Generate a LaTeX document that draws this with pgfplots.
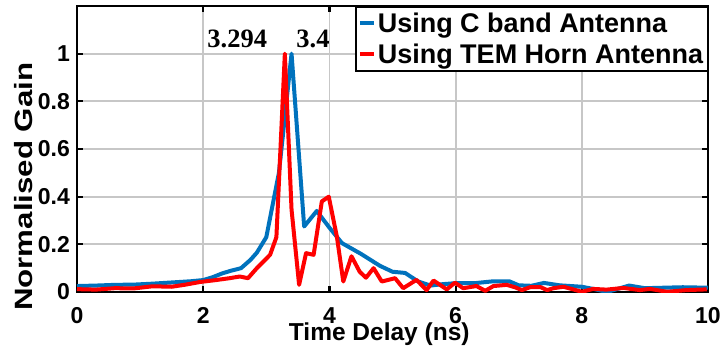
\documentclass[border=0pt]{standalone}
\usepackage{fontspec}
\setmainfont{Liberation Sans}
\newfontfamily\timesfont{Liberation Serif}
\usepackage{pgfplots}
\pgfplotsset{compat=1.18}
\definecolor{mblue}{rgb}{0,0.447,0.741}
\definecolor{mred}{rgb}{1,0,0}
\begin{document}
\begin{tikzpicture}
\begin{axis}[
  scale only axis, width=631pt, height=286pt,
  xmin=0, xmax=10, ymin=0, ymax=1.2,
  xtick={0,2,4,6,8,10}, ytick={0,0.2,0.4,0.6,0.8,1},
  grid=major, major grid style={line width=1.8pt, draw=black!22},
  axis line style={line width=2.2pt},
  tick style={line width=2.2pt, black}, major tick length=6pt, tick align=inside,
  /pgf/number format/assume math mode=true,
  tick label style={font=\fontsize{23}{27}\selectfont\bfseries},
  xticklabel style={inner sep=0pt, anchor=north, yshift=-15pt},
  yticklabel style={inner sep=0pt, anchor=east, xshift=-7pt},
  xlabel={\fontsize{24.5}{29}\selectfont\bfseries Time Delay (ns)},
  xlabel style={at={(axis description cs:0.479,-0.168)}, anchor=base, inner sep=0pt},
  ylabel={\scalebox{1.25}[1]{\fontsize{25}{30}\selectfont\bfseries Normalised Gain}},
  ylabel style={at={(axis description cs:-0.084,0.368)}, anchor=center, inner sep=0pt},
  legend style={at={(1,1)}, anchor=north east, draw=black, line width=1.5pt,
    font=\fontsize{27}{30}\selectfont\bfseries, inner xsep=2pt, inner ysep=4pt,
    nodes={inner sep=2pt}, row sep=6pt},
  legend cell align=left,
  legend image code/.code={\draw[#1, line width=4pt] (0pt,0pt) -- (14pt,0pt);},
]
\addplot[mblue, line width=4pt, line join=round] coordinates {
(0,0.025) (0.3,0.027) (0.6,0.03) (0.9,0.031) (1.2,0.035) (1.5,0.04) (1.8,0.045)
(2.0,0.05) (2.15,0.062) (2.3,0.078) (2.45,0.09) (2.6,0.1) (2.75,0.135) (2.85,0.165)
(3.0,0.23) (3.2,0.5) (3.4,1.0) (3.6,0.275) (3.8,0.34) (4.0,0.27) (4.2,0.205)
(4.5,0.16) (4.8,0.11) (5.0,0.085) (5.2,0.08) (5.4,0.045) (5.6,0.027) (5.8,0.033)
(6.0,0.037) (6.3,0.037) (6.6,0.045) (6.85,0.045) (7.0,0.028) (7.2,0.026) (7.4,0.038)
(7.65,0.028) (8.0,0.022) (8.2,0.012) (8.4,0.0) (8.75,0.027) (9.0,0.016) (9.3,0.018)
(9.6,0.02) (10,0.018)
};
\addlegendentry{Using C band Antenna}
\addplot[mred, line width=4pt, line join=round] coordinates {
(0,0.012) (0.3,0.01) (0.6,0.016) (0.9,0.015) (1.2,0.024) (1.5,0.022) (1.7,0.03)
(1.95,0.042) (2.2,0.05) (2.42,0.058) (2.58,0.065) (2.71,0.058) (2.85,0.10) (3.06,0.156)
(3.16,0.23) (3.294,1.0) (3.4,0.346) (3.52,0.03) (3.63,0.163) (3.75,0.156) (3.88,0.38)
(3.99,0.40) (4.12,0.23) (4.22,0.044) (4.35,0.15) (4.48,0.085) (4.58,0.06) (4.7,0.10)
(4.83,0.044) (5.04,0.058) (5.17,0.016) (5.38,0.051) (5.54,0.008) (5.65,0.048)
(5.86,0.011) (5.99,0.039) (6.12,0.016) (6.33,0.025) (6.47,0.005) (6.6,0.025)
(6.81,0.03) (6.94,0.02) (7.05,0.008) (7.18,0.02) (7.35,0.02) (7.45,0.008) (7.55,0.016)
(7.71,0.022) (8.0,0.001) (8.18,0.013) (8.39,0.01) (8.66,0.017) (8.92,0.008)
(9.08,0.013) (9.35,0.001) (9.66,0.008) (9.98,0.011)
};
\addlegendentry{Using TEM Horn Antenna}
\node[font=\fontsize{26.5}{30}\selectfont\timesfont\bfseries, inner sep=0pt] at (axis cs:2.54,1.063) {3.294};
\node[font=\fontsize{26.5}{30}\selectfont\timesfont\bfseries, inner sep=0pt] at (axis cs:3.74,1.063) {3.4};
\end{axis}
\pgfresetboundingbox
\path ([shift={(-77pt,-57pt)}]current axis.south west) rectangle ([shift={(13pt,6pt)}]current axis.north east);
\end{tikzpicture}
\end{document}
